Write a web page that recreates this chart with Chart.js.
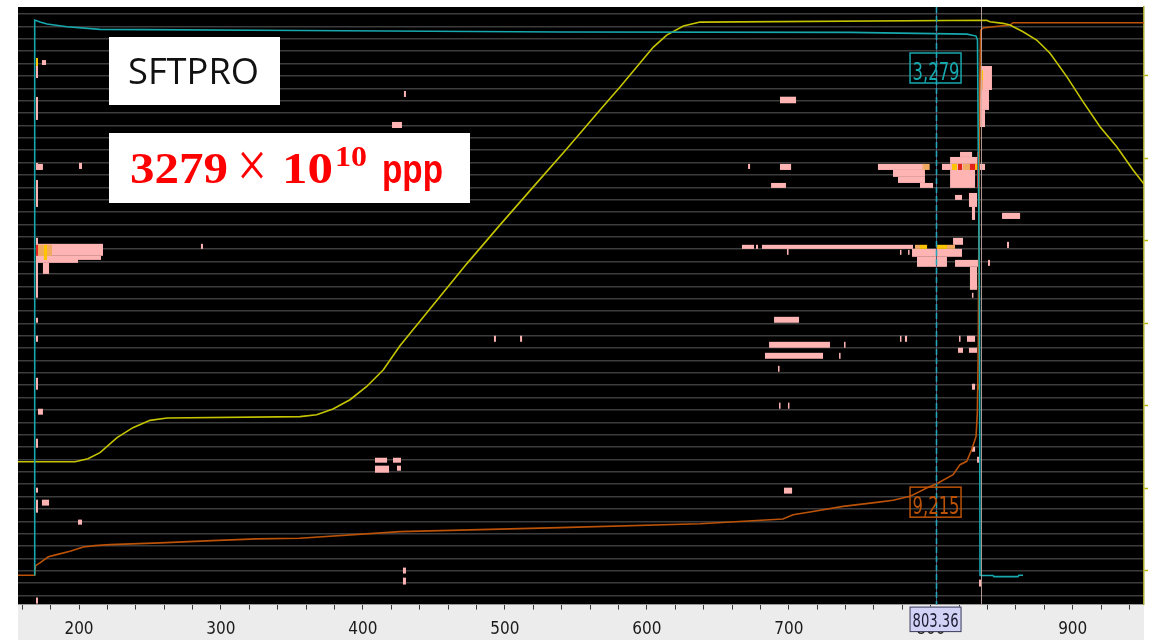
<!DOCTYPE html>
<html>
<head>
<meta charset="utf-8">
<script src="https://cdn.jsdelivr.net/npm/chart.js@4.4.1/dist/chart.umd.min.js"></script>
<style>
  html, body { margin: 0; padding: 0; background: #fff; }
  #wrap { width: 1153px; height: 640px; position: relative; }
</style>
</head>
<body>
<div id="wrap"><canvas id="cycle-chart"></canvas></div>
<script>
/**
 * SPS cycle display: intensity / magnet / losses traces plus BLM blobs.
 * x is cycle time in ms, y is in trace-row units (one unit per grey row line).
 */
const xLabels = [200, 300, 400, 500, 600, 700, 800, 900];
const xMinorTicks = [160, 180, 200, 220, 240, 260, 280, 300, 320, 340, 360, 380, 400, 420, 440, 460, 480, 500,
  520, 540, 560, 580, 600, 620, 640, 660, 680, 700, 720, 740, 760, 780, 800, 820, 840, 860, 880, 900, 920, 940];
const rowLines = [0, 1, 2, 3, 4, 5, 6, 7, 8, 9, 10, 11, 12, 13, 14, 15, 16, 17, 18, 19, 20, 21, 22, 23,
  24, 25, 26, 27, 28, 29, 30, 31, 32, 33, 34, 35, 36, 37, 38, 39, 40, 41, 42, 43, 44, 45, 46, 47];
const rightTicks = [0, 1, 2, 3, 4, 5, 6];

const cursorX = 803.36;
const cursorText = '803.36';
const intensityText = '3,279';
const lossText = '9,215';
const intensityLabelY = 42.64;
const lossLabelY = 7.55;
const markerX = 835.2;

// magnet current (yellow)
const magnetX = [157.0, 197.2, 206.3, 214.8, 226.8, 238.0, 250.0, 262.0, 355.7, 367.4, 378.9, 390.9, 402.7, 414.4,
  426.1, 449.6, 473.1, 496.6, 520.0, 543.5, 567.0, 581.1, 590.5, 598.7, 604.6, 614.0, 625.7, 637.5, 839.4, 841.7,
  850.9, 855.8, 865.0, 874.6, 884.0, 895.8, 907.2, 919.2, 931.0, 942.5, 950.2];
const magnetY = [10.82, 10.82, 11.06, 11.55, 12.76, 13.57, 14.16, 14.35, 14.46, 14.62, 15.08, 15.83, 16.90, 18.25,
  20.19, 23.50, 26.81, 29.96, 33.03, 36.10, 39.25, 41.10, 42.40, 43.53, 44.33, 45.30, 46.03, 46.35, 46.50, 46.38,
  46.25, 46.11, 45.57, 44.90, 43.83, 41.94, 39.92, 37.90, 36.28, 34.40, 33.27];

// beam intensity (cyan)
const intensityX = [168.8, 168.8, 172.5, 177.5, 191.5, 214.8, 355.7, 538.8, 743.1, 825.5, 831.9, 832.9, 834.3,
  834.7, 843.8, 844.5, 861.4, 862.1, 865.0];
const intensityY = [1.62, 46.51, 46.35, 46.19, 45.97, 45.76, 45.67, 45.55, 45.52, 45.38, 45.22, 44.90, 23.90,
  1.62, 1.62, 1.53, 1.53, 1.64, 1.64];

// integrated losses (orange)
const lossX = [157.0, 168.8, 169.4, 172.5, 178.4, 184.3, 193.7, 203.0, 211.3, 221.8, 257.1, 293.7, 325.2, 355.5,
  426.1, 538.8, 637.5, 695.9, 703.0, 714.9, 738.2, 761.9, 773.4, 785.4, 797.1, 804.2, 815.7, 820.6, 825.3, 828.8,
  831.9, 832.8, 833.5, 834.3, 835.2, 836.8, 848.8, 855.8, 858.0, 950.2];
const lossY = [1.64, 1.64, 2.42, 2.64, 3.13, 3.31, 3.58, 3.93, 4.04, 4.12, 4.26, 4.44, 4.58, 4.63, 5.17, 5.49,
  5.81, 6.19, 6.54, 6.76, 7.21, 7.53, 7.70, 8.02, 8.70, 9.04, 9.77, 10.58, 10.85, 11.79, 12.86, 14.78, 20.13,
  40.05, 45.71, 45.87, 46.03, 46.11, 46.30, 46.30];

// BLM blobs: [x0, x1, yA, yB]
const pinkBoxes = [
  [169.7, 216.9, 28.43, 27.46], [169.7, 199.3, 27.46, 26.89], [174.6, 178.9, 26.89, 26.00], [199.3, 215.5, 27.46, 27.13],
  [169.7, 171.1, 43.45, 41.83], [169.7, 171.1, 40.30, 38.44], [169.7, 171.1, 34.97, 34.40], [169.7, 171.1, 33.59, 31.41],
  [169.7, 171.1, 28.91, 24.07], [169.7, 171.1, 22.45, 22.05], [169.7, 171.1, 21.00, 20.51], [169.7, 171.1, 17.60, 16.64],
  [169.7, 171.1, 12.68, 11.95], [169.7, 171.1, 8.72, 8.32], [169.7, 171.1, 7.75, 6.70], [169.7, 171.1, -0.16, -0.65],
  [173.9, 176.8, 43.28, 42.88], [171.1, 174.6, 34.89, 34.40], [200.0, 202.1, 34.97, 34.48], [171.1, 174.6, 15.10, 14.62],
  [173.9, 178.9, 7.75, 7.27], [199.3, 202.1, 6.14, 5.73], [285.9, 287.3, 28.43, 28.02],
  [428.9, 430.3, 40.78, 40.30], [420.5, 427.5, 38.28, 37.79], [492.3, 493.7, 21.00, 20.51], [510.7, 512.1, 21.00, 20.51],
  [408.5, 417.0, 11.14, 10.74], [421.2, 426.8, 11.14, 10.74], [408.5, 418.4, 10.50, 9.93], [424.0, 426.8, 10.50, 10.09],
  [428.2, 430.3, 2.26, 1.78], [428.2, 430.3, 1.45, 0.89],
  [693.8, 705.1, 40.32, 39.79], [671.3, 672.7, 34.89, 34.48], [693.8, 701.6, 34.89, 34.40], [687.5, 698.0, 33.35, 32.95],
  [762.8, 795.9, 34.89, 34.40], [773.4, 795.9, 34.40, 33.84], [776.9, 795.9, 33.84, 33.35], [792.4, 801.6, 33.35, 32.95],
  [807.9, 838.2, 34.89, 34.40], [813.6, 834.7, 35.45, 34.89], [820.6, 829.1, 35.86, 35.45], [813.6, 831.2, 34.40, 32.95],
  [817.1, 822.0, 32.38, 31.98], [826.9, 832.6, 32.54, 31.41], [829.0, 831.2, 31.41, 30.36],
  [834.7, 843.1, 42.80, 40.86], [834.0, 841.0, 40.86, 39.25], [834.7, 838.2, 39.25, 37.87],
  [667.0, 675.5, 28.35, 28.02], [676.9, 678.3, 28.35, 28.02], [681.1, 787.5, 28.35, 28.02], [786.8, 822.0, 28.02, 27.38],
  [790.3, 811.4, 27.38, 26.57], [815.7, 822.7, 28.91, 28.35], [817.1, 833.3, 27.13, 26.57], [827.6, 832.6, 26.57, 24.71],
  [698.7, 699.8, 28.02, 27.54], [778.3, 779.0, 27.94, 27.54], [784.0, 784.7, 27.94, 27.54],
  [850.2, 862.9, 30.93, 30.44], [853.7, 855.1, 28.59, 28.10], [840.3, 841.7, 27.13, 26.65],
  [689.6, 707.2, 22.53, 22.05], [686.1, 729.0, 20.51, 20.03], [683.2, 724.1, 19.62, 19.14],
  [738.9, 739.6, 20.51, 20.03], [735.4, 736.1, 19.62, 19.14], [692.4, 693.1, 18.57, 18.09],
  [693.1, 693.8, 15.59, 15.10], [699.4, 700.1, 15.59, 15.10],
  [778.3, 779.0, 21.00, 20.51], [781.8, 783.3, 21.00, 20.51], [819.9, 820.6, 21.00, 20.51], [825.5, 831.2, 21.00, 20.51],
  [819.2, 822.7, 20.03, 19.62], [826.9, 832.6, 20.03, 19.62], [829.0, 831.2, 17.12, 16.64], [829.0, 831.2, 12.03, 11.63],
  [696.6, 702.3, 8.72, 8.24], [829.0, 830.0, 25.52, 25.03], [829.0, 830.0, 24.47, 24.07],
  [832.6, 834.7, 11.22, 10.74], [834.0, 835.4, 1.29, 0.73]
];
const orangeBoxes = [
  [171.1, 181.0, 28.35, 27.46], [794.3, 799.2, 34.89, 34.40], [822.7, 827.6, 34.89, 34.40],
  [788.9, 792.4, 28.35, 28.02], [811.4, 817.1, 28.35, 28.02], [835.4, 836.8, 42.16, 40.86]
];
const yellowBoxes = [
  [175.3, 177.5, 28.35, 27.13], [169.7, 171.1, 43.45, 42.80], [815.0, 818.5, 34.89, 34.40], [831.2, 833.3, 34.89, 34.40],
  [792.4, 797.4, 28.35, 28.02], [804.4, 811.4, 28.35, 28.02], [835.4, 836.8, 42.48, 41.67], [832.6, 833.3, 17.12, 16.64]
];
const redBoxes = [
  [169.7, 171.1, 28.35, 27.46], [819.2, 822.0, 34.89, 34.40], [827.6, 831.2, 34.89, 34.40], [832.6, 833.3, 35.86, 32.95]
];

const cyan = '#17a8ae';
const yellow = '#c4c400';
const orange = '#bb5208';
const narrow = "'Liberation Sans Narrow', 'DejaVu Sans Condensed', 'Liberation Sans', sans-serif";

const toPoints = (xs, ys) => xs.map((x, i) => ({ x, y: ys[i] }));

const fitText = (ctx, text, left, baseline, width, font, color) => {
  ctx.save();
  ctx.font = font;
  ctx.fillStyle = color;
  ctx.textAlign = 'left';
  ctx.textBaseline = 'alphabetic';
  const w = ctx.measureText(text).width;
  ctx.translate(left, baseline);
  ctx.scale(width / w, 1);
  ctx.fillText(text, 0, 0);
  ctx.restore();
};

const backdrop = {
  id: 'backdrop',
  beforeDraw(chart) {
    const { ctx, chartArea: a, height } = chart;
    ctx.save();
    ctx.fillStyle = '#000';
    ctx.fillRect(a.left, a.top, a.width, a.height);
    ctx.fillStyle = '#ececec';
    ctx.fillRect(a.left, a.bottom, a.width, height - a.bottom);
    ctx.restore();
  }
};

const blobs = {
  id: 'blobs',
  beforeDatasetsDraw(chart) {
    const { ctx, chartArea: a, scales: { x, y } } = chart;
    ctx.save();
    ctx.beginPath();
    ctx.rect(a.left, a.top, a.width, a.height);
    ctx.clip();
    const fill = (boxes, color) => {
      ctx.fillStyle = color;
      boxes.forEach(([x0, x1, y0, y1]) => {
        const p0 = x.getPixelForValue(x0), p1 = x.getPixelForValue(x1);
        const q0 = y.getPixelForValue(y0), q1 = y.getPixelForValue(y1);
        ctx.fillRect(Math.min(p0, p1), Math.min(q0, q1), Math.max(1.5, Math.abs(p1 - p0)), Math.abs(q1 - q0));
      });
    };
    fill(pinkBoxes, '#ffb4b4');
    fill(orangeBoxes, '#f0aa62');
    fill(yellowBoxes, '#ffc400');
    fill(redBoxes, '#e4221c');
    ctx.restore();
  },
  afterDatasetsDraw(chart) {
    const { ctx, chartArea: a, scales: { x } } = chart;
    ctx.save();
    // thin marker line
    const mx = Math.round(x.getPixelForValue(markerX)) + 0.5;
    ctx.strokeStyle = 'rgba(205,175,170,0.85)';
    ctx.lineWidth = 1;
    ctx.beginPath(); ctx.moveTo(mx, a.top); ctx.lineTo(mx, a.bottom); ctx.stroke();
    // cursor
    const cx = Math.round(x.getPixelForValue(cursorX)) + 0.5;
    ctx.strokeStyle = '#5a5a78';
    ctx.beginPath(); ctx.moveTo(cx, a.top); ctx.lineTo(cx, a.bottom); ctx.stroke();
    ctx.strokeStyle = '#22a6b8';
    ctx.lineWidth = 1.6;
    ctx.setLineDash([6, 3]);
    ctx.beginPath(); ctx.moveTo(cx, a.top); ctx.lineTo(cx, a.bottom); ctx.stroke();
    ctx.restore();
  },
  afterDraw(chart) {
    const { ctx, chartArea: a, scales: { x, y } } = chart;
    const cx = x.getPixelForValue(cursorX);
    ctx.save();

    // value boxes at the cursor
    const valueBox = (text, yVal, color) => {
      const cy = y.getPixelForValue(yVal);
      ctx.strokeStyle = color;
      ctx.lineWidth = 1.5;
      ctx.strokeRect(cx - 25.5, cy - 15, 51, 30);
      fitText(ctx, text, cx - 23, cy + 12, 47, `24px ${narrow}`, color);
    };
    valueBox(intensityText, intensityLabelY, cyan);
    valueBox(lossText, lossLabelY, orange);

    // cursor time box under the axis
    ctx.fillStyle = '#d2d2f6';
    ctx.fillRect(cx - 25.5, a.bottom + 2, 51, 25);
    ctx.strokeStyle = '#3a3a5a';
    ctx.lineWidth = 1;
    ctx.strokeRect(cx - 25.5, a.bottom + 2.5, 51, 24.5);
    fitText(ctx, cursorText, cx - 23, a.bottom + 22, 46, `20px ${narrow}`, '#1c1c30');

    // title boxes
    ctx.fillStyle = '#fff';
    ctx.fillRect(109, 37, 171, 68);
    fitText(ctx, 'SFTPRO', 128, 84, 131, "36px 'Open Sans', sans-serif", '#111');

    ctx.fillStyle = '#fff';
    ctx.fillRect(109, 133, 361, 70);
    const red = '#ff0000';
    fitText(ctx, '3279', 130, 183, 98, "bold 44px 'Liberation Serif', serif", red);
    fitText(ctx, '\u00d7', 237, 187, 30, "66px 'Liberation Serif', serif", red);
    fitText(ctx, '10', 282, 183, 51, "bold 44px 'Liberation Serif', serif", red);
    fitText(ctx, '10', 335, 166, 32, "bold 29px 'Liberation Serif', serif", red);
    fitText(ctx, 'ppp', 382, 183, 61, "bold 40px 'Liberation Sans', sans-serif", red);
    ctx.restore();
  }
};

new Chart(document.getElementById('cycle-chart'), {
  type: 'line',
  data: {
    datasets: [
      { label: 'Intensity', data: toPoints(intensityX, intensityY), borderColor: cyan, borderWidth: 1.6 },
      { label: 'Magnet', data: toPoints(magnetX, magnetY), borderColor: yellow, borderWidth: 1.6 },
      { label: 'Losses', data: toPoints(lossX, lossY), borderColor: orange, borderWidth: 1.6 }
    ]
  },
  options: {
    responsive: true,
    maintainAspectRatio: false,
    animation: false,
    elements: { point: { radius: 0, hoverRadius: 0 }, line: { tension: 0, fill: false } },
    layout: { padding: { left: 18, top: 7, right: 5, bottom: -10 } },
    plugins: { legend: { display: false }, tooltip: { enabled: false } },
    scales: {
      x: {
        type: 'linear',
        min: 157.03,
        max: 950.2,
        afterBuildTicks: (s) => { s.ticks = xMinorTicks.map((v) => ({ value: v })); },
        grid: { drawOnChartArea: false, drawTicks: true, tickLength: 5, tickColor: '#3a3a3a', tickWidth: 1 },
        border: { display: false },
        ticks: {
          autoSkip: false,
          maxRotation: 0,
          padding: 10,
          color: '#1a1a1a',
          font: { family: narrow, size: 17 },
          callback: (v) => (xLabels.includes(v) ? String(v) : '')
        }
      },
      y: {
        type: 'linear',
        min: -0.73,
        max: 47.57,
        afterBuildTicks: (s) => { s.ticks = rowLines.map((v) => ({ value: v })); },
        grid: { color: '#3c3c3c', lineWidth: 1.5, drawTicks: false },
        border: { display: false },
        ticks: { display: false }
      },
      y2: {
        type: 'linear',
        position: 'right',
        min: -0.412,
        max: 6.836,
        afterBuildTicks: (s) => { s.ticks = rightTicks.map((v) => ({ value: v })); },
        grid: { drawOnChartArea: false, drawTicks: true, tickLength: 4, tickColor: '#b4b400', tickWidth: 1.5 },
        border: { display: true, color: '#a6a630', width: 1.5 },
        ticks: { display: false }
      }
    }
  },
  plugins: [backdrop, blobs]
});
</script>
</body>
</html>
